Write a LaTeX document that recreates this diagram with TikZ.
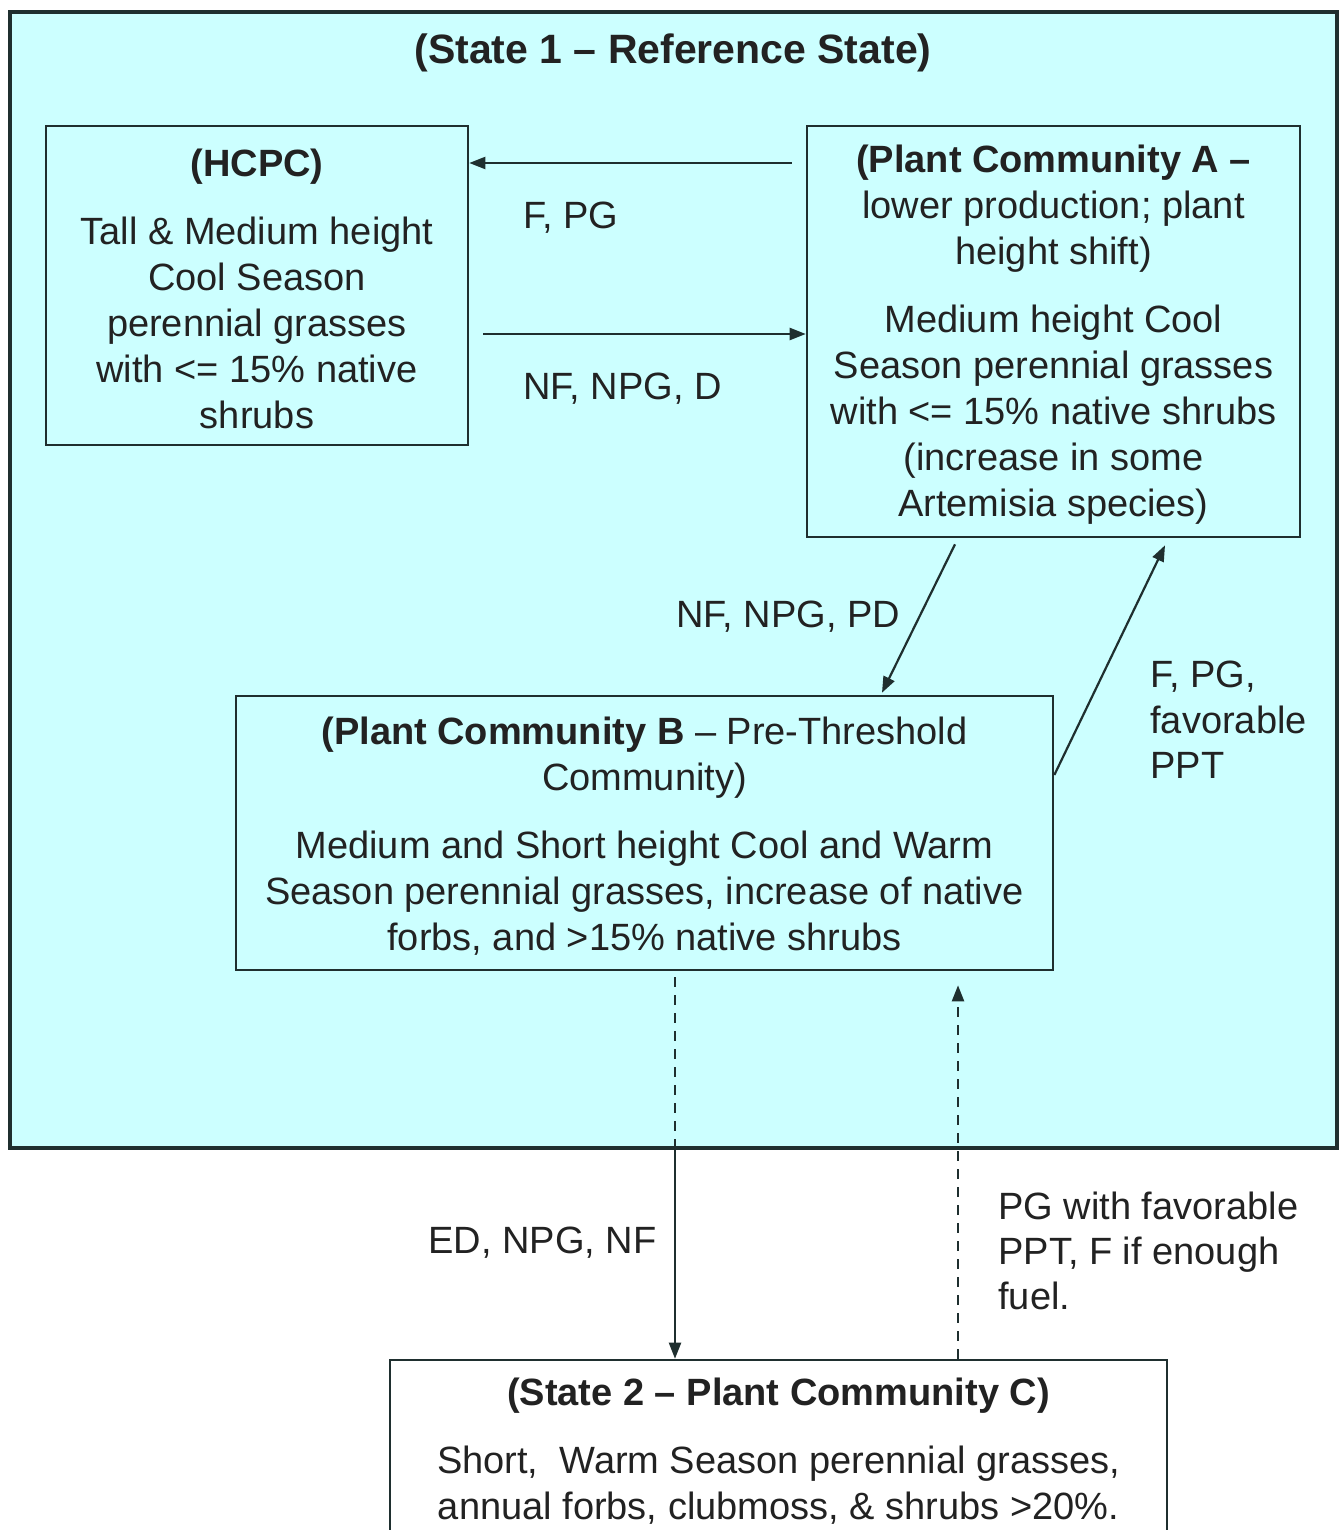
\documentclass[tikz,border=0pt]{standalone}
\usepackage{fontspec}
\setmainfont{Liberation Sans}
\usetikzlibrary{arrows.meta,fit,calc}
\definecolor{cyanbg}{HTML}{CCFFFF}
\definecolor{linec}{HTML}{1F2F2F}
\definecolor{txtc}{HTML}{222222}
\begin{document}
\begin{tikzpicture}[x=0.5pt,y=-0.5pt,
  outerbox/.style={draw=linec, line width=2pt, fill=cyanbg, inner sep=0pt},
  box/.style={draw=linec, line width=1.3pt, inner sep=0pt},
  txt/.style={text=txtc, align=center, font=\fontsize{19pt}{23pt}\selectfont, inner sep=0pt, yshift=-1.5pt},
  lbl/.style={text=txtc, align=left, anchor=west, font=\fontsize{19pt}{22.7pt}\selectfont, inner sep=0pt, yshift=-1.5pt},
  arr/.style={draw=linec, line width=1.1pt, -{Triangle[length=8pt,width=6pt]}},
  plainline/.style={draw=linec, line width=1.1pt},
  dashline/.style={dash pattern=on 5pt off 4pt}
]
\useasboundingbox[fill=white] (0,0) rectangle (1342,1530);

% boxes
\node[outerbox, fit={(10,12) (1337,1148)}] (outer) {};
\node[txt, font=\bfseries\fontsize{20.5pt}{24pt}\selectfont] (title) at (673,50) {(State 1 -- Reference State)};

\node[box, fit={(46,126) (468,445)}] (hcpc) {};
\node[txt] (hcpct) at (hcpc.center) {\textbf{(HCPC)}\\[11pt]
Tall \& Medium height\\Cool Season\\perennial grasses\\with <= 15\% native\\shrubs};

\node[box, fit={(807,126) (1300,537)}] (A) {};
\node[txt] (At) at (A.center) {\textbf{(Plant Community A --}\\lower production; plant\\height shift)\\[11pt]
Medium height Cool\\Season perennial grasses\\with <= 15\% native shrubs\\(increase in some\\Artemisia species)};

\node[box, fit={(236,696) (1053,970)}] (B) {};
\node[txt] (Bt) at (B.center) {\textbf{(Plant Community B} -- Pre-Threshold\\Community)\\[11pt]
Medium and Short height Cool and Warm\\Season perennial grasses, increase of native\\forbs, and >15\% native shrubs};

\node[box, fill=white, fit={(390,1360) (1167,1545)}] (C) {};
\node[txt] (Ct) at (778.5,1448) {\textbf{(State 2 -- Plant Community C)}\\[11pt]
Short,\ \ Warm Season perennial grasses,\\annual forbs, clubmoss, \& shrubs >20\%.};

% helper coordinates
\coordinate (yA) at (0,163);
\coordinate (yB) at (0,334);
\coordinate (yC) at (0,775);
\coordinate (x955) at (955,0);
\coordinate (x882) at (882,0);
\coordinate (x1165) at (1165,0);
\coordinate (x675) at (675,0);
\coordinate (x958) at (958,0);

% connectors
\draw[arr] ($(A.west |- yA)+(-14,0)$) -- (hcpc.east |- yA);
\draw[arr] ($(hcpc.east |- yB)+(14,0)$) -- (A.west |- yB);
\draw[arr] ($(A.south -| x955)+(0,6)$) -- ($(B.north -| x882)+(0,-2)$);
\draw[arr] (B.east |- yC) -- ($(A.south -| x1165)+(0,7)$);
\draw[plainline, dashline] ($(B.south -| x675)+(0,6)$) -- (outer.south -| x675);
\draw[arr] (outer.south -| x675) -- (C.north -| x675);
\draw[arr, dashline] (C.north -| x958) -- ($(B.south -| x958)+(0,14)$);

% labels
\node[lbl] (l1) at (523,215) {F, PG};
\node[lbl] (l2) at (523,386) {NF, NPG, D};
\node[lbl] (l3) at (676,614) {NF, NPG, PD};
\node[lbl] (l4) at (1150,717) {F, PG,\\favorable\\PPT};
\node[lbl] (l5) at (428,1240) {ED, NPG, NF};
\node[lbl] (l6) at (998,1248) {PG with favorable\\PPT, F if enough\\fuel.};
\end{tikzpicture}
\end{document}
